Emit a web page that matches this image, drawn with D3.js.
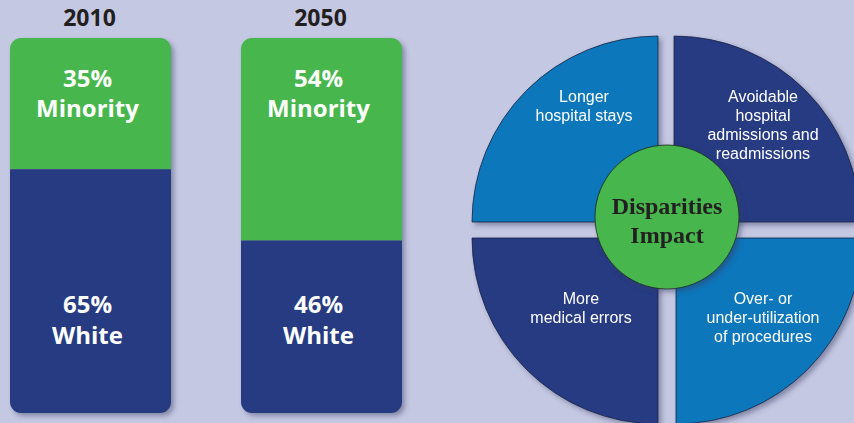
<!DOCTYPE html>
<html>
<head>
<meta charset="utf-8">
<script src="https://cdn.jsdelivr.net/npm/d3@7"></script>
<style>
  body { margin: 0; background: #c5c8e2; }
  svg { display: block; }
</style>
</head>
<body>
<svg id="chart" width="854" height="423"></svg>
<script>

// Population data
var years = ['2010', '2050'];
var minority = [35, 54];
var white = [65, 46];

// Disparity quadrants (clockwise from top right)
var impacts = [
    ['Avoidable', 'hospital', 'admissions and', 'readmissions'],
    ['Over- or', 'under-utilization', 'of procedures'],
    ['More', 'medical errors'],
    ['Longer', 'hospital stays']
];
var centerLabel = ['Disparities', 'Impact'];

//*************************************************//
// Setup
//*************************************************//
var svg = d3.select('#chart');
var green = '#47b74d';
var navy = '#263a82';
var blue = '#0b77bb';

var defs = svg.append('defs');
var shadow = defs.append('filter')
    .attr('id', 'shadow')
    .attr('x', '-20%').attr('y', '-20%')
    .attr('width', '140%').attr('height', '140%');
shadow.append('feDropShadow')
    .attr('dx', 3).attr('dy', 3)
    .attr('stdDeviation', 2.5)
    .attr('flood-color', '#333a60')
    .attr('flood-opacity', 0.45);

//*************************************************//
// Stacked bars
//*************************************************//
var x = d3.scaleBand().domain(years).range([10, 402]).paddingInner(0.303);
var y = d3.scaleLinear().domain([0, 100]).range([38, 413]);

years.forEach(function(yr, i) {

    var bx = x(yr);
    var bw = x.bandwidth();

    // Clip for rounded corners
    defs.append('clipPath')
        .attr('id', 'clip' + i)
      .append('rect')
        .attr('x', bx).attr('y', y(0))
        .attr('width', bw).attr('height', y(100) - y(0))
        .attr('rx', 11);

    var outer = svg.append('g').attr('filter', 'url(#shadow)');
    var bar = outer.append('g').attr('clip-path', 'url(#clip' + i + ')');

    bar.append('rect')
        .attr('x', bx).attr('y', y(0))
        .attr('width', bw).attr('height', y(minority[i]) - y(0))
        .attr('fill', green);

    bar.append('rect')
        .attr('x', bx).attr('y', y(minority[i]))
        .attr('width', bw).attr('height', y(100) - y(minority[i]))
        .attr('fill', navy);

    // Year heading
    svg.append('text')
        .attr('x', bx + bw / 2 - 1).attr('y', 26)
        .attr('text-anchor', 'middle')
        .attr('font-family', 'Open Sans')
        .attr('font-weight', 'bold')
        .attr('font-size', '23px')
        .attr('fill', '#231f20')
        .text(yr);

    // Labels
    var lab = svg.append('g')
        .attr('font-family', 'Open Sans')
        .attr('font-weight', 'bold')
        .attr('font-size', '24px')
        .attr('fill', '#fff')
        .attr('text-anchor', 'middle');

    lab.append('text').attr('x', bx + bw / 2 - 3).attr('y', 87).text(minority[i] + '%');
    lab.append('text').attr('x', bx + bw / 2 - 3).attr('y', 117).text('Minority');
    lab.append('text').attr('x', bx + bw / 2 - 3).attr('y', 313).text(white[i] + '%');
    lab.append('text').attr('x', bx + bw / 2 - 3).attr('y', 344).text('White');
});

//*************************************************//
// Disparities pie
//*************************************************//
var cx = 666, cy = 230, gap = 8;
var arc = d3.arc().innerRadius(0).outerRadius(186);
var pie = d3.pie().sort(null).value(function() { return 1; });
var slices = pie(impacts);

var fills = [navy, blue, navy, blue];
var offsets = [[gap, -gap], [gap + 2, gap], [-gap, gap], [-gap, -gap]];
// text centers relative to pie center
var textPos = [[97, -128], [97, 74], [-85, 74], [-82, -128]];

var pieG = svg.append('g').attr('filter', 'url(#shadow)');

slices.forEach(function(s, i) {
    pieG.append('path')
        .attr('d', arc(s))
        .attr('transform', 'translate(' + (cx + offsets[i][0]) + ',' + (cy + offsets[i][1]) + ')')
        .attr('fill', fills[i])
        .attr('stroke', '#1c2340')
        .attr('stroke-width', 0.8);
});

slices.forEach(function(s, i) {
    var t = svg.append('text')
        .attr('text-anchor', 'middle')
        .attr('font-family', 'Liberation Sans')
        .attr('font-size', '16px')
        .attr('fill', '#fff');
    s.data.forEach(function(line, j) {
        t.append('tspan')
            .attr('x', cx + textPos[i][0])
            .attr('y', cy + textPos[i][1] + j * 19)
            .text(line);
    });
});

// Center circle
svg.append('circle')
    .attr('cx', 667).attr('cy', 217).attr('r', 72)
    .attr('fill', green)
    .attr('stroke', '#1c2a1c')
    .attr('stroke-width', 0.8)
    .attr('filter', 'url(#shadow)');

svg.append('text')
    .attr('x', 667).attr('y', 214)
    .attr('text-anchor', 'middle')
    .attr('font-family', 'Liberation Serif')
    .attr('font-weight', 'bold')
    .attr('font-size', '24px')
    .attr('fill', '#231f20')
    .text(centerLabel[0]);

svg.append('text')
    .attr('x', 667).attr('y', 243)
    .attr('text-anchor', 'middle')
    .attr('font-family', 'Liberation Serif')
    .attr('font-weight', 'bold')
    .attr('font-size', '24px')
    .attr('fill', '#231f20')
    .text(centerLabel[1]);

</script>
</body>
</html>
